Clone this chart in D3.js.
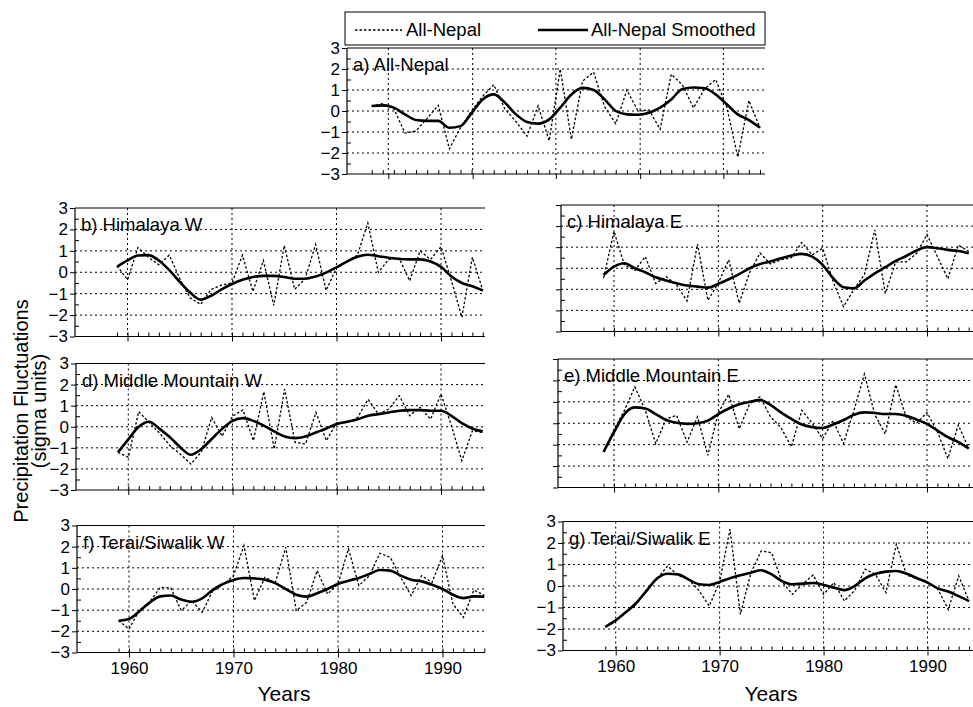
<!DOCTYPE html>
<html lang="en">
<head>
<meta charset="UTF-8">
<title>Precipitation Fluctuations - Nepal</title>
<script src="https://d3js.org/d3.v7.min.js"></script>
<style>
  body { margin: 0; background: #fff; font-family: "Liberation Sans", Arial, sans-serif; }
  .grid { stroke: #000; stroke-width: 1; stroke-dasharray: 2,3; }
  .raw { fill: none; stroke: #000; stroke-width: 1.3; stroke-dasharray: 2.5,2; }
  .smooth { fill: none; stroke: #000; stroke-width: 2.6; stroke-linejoin: round; }
  .frame { stroke: #000; stroke-width: 1.2; }
  .axis path { display: none; }
  .axis line { stroke: #000; stroke-width: 1; }
  .axis text { font-size: 17px; font-family: "Liberation Sans", Arial, sans-serif; fill: #000; }
  .panel-label { font-size: 18.5px; }
</style>
</head>
<body>
<svg width="973" height="707"></svg>
<script>
// years of record
const years = d3.range(1959, 1995);

// a) All-Nepal
const allNepal = [0.24, 0.35, 0.1, -1.05, -0.95, -0.35, 0.27, -1.8, -0.8, 0.0, 0.7, 1.25,
  0.1, -0.5, -1.2, 0.25, -1.42, 2.0, -1.35, 1.42, 1.85, 0.2, -0.6, 1.0,
  0.0, 0.05, -0.87, 1.75, 1.25, 0.15, 1.05, 1.5, 0.2, -2.2, 0.5, -0.8];
const allNepalSmooth = [0.24, 0.27, 0.16, -0.16, -0.43, -0.47, -0.47, -0.8, -0.72, -0.1, 0.55, 0.79,
  0.4, -0.16, -0.52, -0.6, -0.4, 0.16, 0.79, 1.1, 1.0, 0.55, 0.0, -0.16,
  -0.18, -0.08, 0.16, 0.55, 1.05, 1.12, 1.08, 0.79, 0.32, -0.16, -0.43, -0.79];

// b) Himalaya W
const himalayaW = [0.3, -0.35, 1.15, 0.7, 0.35, 0.8, -0.3, -1.2, -1.5, -0.8, -0.6, -0.5,
  0.8, -0.9, 0.55, -1.55, 1.25, -0.8, -0.3, 1.3, -0.85, 0.2, 0.5, 0.8,
  2.3, 0.0, 0.6, 0.65, -0.4, 1.0, 0.6, 1.2, -0.4, -2.1, 0.7, -0.85];
const himalayaWSmooth = [0.25, 0.55, 0.78, 0.8, 0.55, 0.1, -0.45, -0.95, -1.28, -1.1, -0.8, -0.55,
  -0.35, -0.22, -0.17, -0.17, -0.22, -0.3, -0.3, -0.2, -0.02, 0.23, 0.5, 0.72,
  0.82, 0.75, 0.68, 0.62, 0.6, 0.6, 0.5, 0.25, -0.2, -0.5, -0.65, -0.85];

// c) Himalaya E
const himalayaE = [-0.47, 1.75, 0.15, -0.1, 0.55, -0.72, -0.4, -0.8, -1.55, 1.15, -1.52, -0.7,
  0.4, -1.66, -0.2, 0.72, 0.2, 0.4, 0.5, 1.22, 0.63, 0.95, -0.63, -1.82,
  -1.0, -0.3, 1.82, -1.2, 0.3, 0.3, 0.7, 1.6, 0.55, -0.5, 1.1, 0.8];
const himalayaESmooth = [-0.32, 0.08, 0.24, 0.0, -0.19, -0.43, -0.58, -0.71, -0.82, -0.87, -0.92, -0.74,
  -0.52, -0.28, 0.0, 0.2, 0.32, 0.47, 0.6, 0.68, 0.55, 0.16, -0.47, -0.9,
  -0.95, -0.58, -0.24, 0.05, 0.35, 0.58, 0.84, 1.0, 0.95, 0.87, 0.82, 0.71];

// d) Middle Mountain W
const middleW = [-1.22, -1.45, 0.72, 0.2, -0.3, -0.9, -1.3, -1.77, -1.2, 0.44, -0.45, 0.5,
  0.8, -0.66, 1.66, -1.06, 1.78, -0.74, -0.82, 0.68, -0.66, 0.2, 0.2, 0.44,
  1.3, 0.6, 0.84, 1.47, 0.52, 0.92, 0.36, 1.55, 0.05, -1.61, -0.2, -0.27];
const middleWSmooth = [-1.22, -0.6, 0.0, 0.24, -0.1, -0.5, -0.98, -1.33, -1.06, -0.58, -0.1, 0.28,
  0.41, 0.28, 0.05, -0.22, -0.46, -0.54, -0.46, -0.27, -0.08, 0.13, 0.24, 0.36,
  0.52, 0.6, 0.68, 0.76, 0.79, 0.79, 0.76, 0.76, 0.52, 0.17, -0.08, -0.22];

// e) Middle Mountain E
const middleE = [-1.34, -0.3, 0.6, 1.7, 0.6, -0.95, 0.2, 0.37, -0.88, 0.3, -1.5, 0.5,
  1.35, -0.26, 0.9, 1.24, 0.3, -0.2, -1.1, 0.6, 0.0, -0.72, 0.12, -0.95,
  0.6, 2.3, 0.4, -0.5, 1.8, 0.3, 0.0, 0.5, -0.4, -1.65, -0.08, -1.18];
const middleESmooth = [-1.34, -0.42, 0.43, 0.74, 0.69, 0.43, 0.15, 0.02, -0.03, 0.0, 0.12, 0.43,
  0.69, 0.89, 1.0, 1.08, 0.86, 0.51, 0.2, -0.06, -0.18, -0.22, -0.06, 0.15,
  0.4, 0.51, 0.48, 0.43, 0.43, 0.35, 0.17, -0.03, -0.34, -0.65, -0.88, -1.18];

// f) Terai/Siwalik W
const teraiW = [-1.5, -1.89, -1.0, -0.6, 0.08, 0.05, -1.02, -0.55, -1.1, -0.1, 0.2, 0.63,
  2.05, -0.55, 0.55, 0.3, 1.97, -1.02, -0.63, 0.87, -0.24, 0.24, 1.9, 0.16,
  0.63, 1.69, 1.5, 0.55, -0.31, 0.63, 0.31, 1.57, -0.71, -1.34, -0.05, -0.3];
const teraiWSmooth = [-1.5, -1.42, -1.05, -0.63, -0.35, -0.31, -0.5, -0.6, -0.44, -0.05, 0.24, 0.43,
  0.52, 0.5, 0.44, 0.28, 0.0, -0.27, -0.36, -0.2, 0.0, 0.24, 0.39, 0.52,
  0.71, 0.9, 0.87, 0.63, 0.44, 0.36, 0.2, 0.0, -0.27, -0.43, -0.35, -0.36];

// g) Terai/Siwalik E
const teraiE = [-1.9, -1.6, -1.2, -0.85, -0.15, 0.35, 0.93, 0.5, 0.3, -0.2, -0.93, 0.2,
  2.64, -1.32, 0.6, 1.63, 1.55, 0.2, -0.39, 0.1, 0.51, -0.39, 0.16, -0.7,
  -0.2, 0.78, 0.54, -0.31, 1.94, 0.5, 0.35, 0.15, -0.15, -1.09, 0.47, -0.7];
const teraiESmooth = [-1.9, -1.6, -1.21, -0.78, -0.2, 0.36, 0.57, 0.54, 0.31, 0.08, 0.05, 0.19,
  0.36, 0.5, 0.62, 0.73, 0.54, 0.23, 0.08, 0.11, 0.14, 0.05, -0.08, -0.19,
  0.0, 0.36, 0.57, 0.67, 0.7, 0.57, 0.36, 0.16, -0.11, -0.26, -0.47, -0.7];

const yTicks = [-3, -2, -1, 0, 1, 2, 3];
const decadeTicks = [1960, 1970, 1980, 1990];
const panelAGrid = [1960.5, 1968.1, 1975.6, 1983.2, 1990.7];
const legendLabels = ["All-Nepal", "All-Nepal Smoothed"];

// layout of the seven panels (pixels)
const panels = [
  { label: "a) All-Nepal", raw: allNepal, smooth: allNepalSmooth, left: 347, right: 765, top: 48, bottom: 174,
    xDom: [1959, 1994], xRange: [371.7, 760], grid: panelAGrid, yLabels: true, xLabels: false },
  { label: "b) Himalaya W", raw: himalayaW, smooth: himalayaWSmooth, left: 75, right: 485, top: 208, bottom: 336.5,
    xDom: [1960, 1990], xRange: [127.5, 441], grid: decadeTicks, yLabels: true, xLabels: false },
  { label: "c) Himalaya E", raw: himalayaE, smooth: himalayaESmooth, left: 561, right: 973, top: 205, bottom: 331.5,
    xDom: [1960, 1990], xRange: [614, 927], grid: decadeTicks, yLabels: false, xLabels: false },
  { label: "d) Middle Mountain W", raw: middleW, smooth: middleWSmooth, left: 76, right: 485, top: 363.5, bottom: 490,
    xDom: [1960, 1990], xRange: [128.3, 441], grid: decadeTicks, yLabels: true, xLabels: false },
  { label: "e) Middle Mountain E", raw: middleE, smooth: middleESmooth, left: 558, right: 973, top: 359, bottom: 487.5,
    xDom: [1960, 1990], xRange: [614, 927], grid: decadeTicks, yLabels: false, xLabels: false },
  { label: "f) Terai/Siwalik W", raw: teraiW, smooth: teraiWSmooth, left: 77, right: 485, top: 525.5, bottom: 652.5,
    xDom: [1960, 1990], xRange: [129, 442.5], grid: decadeTicks, yLabels: true, xLabels: true },
  { label: "g) Terai/Siwalik E", raw: teraiE, smooth: teraiESmooth, left: 563, right: 973, top: 521.5, bottom: 650.5,
    xDom: [1960, 1990], xRange: [615.7, 927.5], grid: decadeTicks, yLabels: true, xLabels: true }
];

const svg = d3.select("svg");

panels.forEach(p => {
  const x = d3.scaleLinear().domain(p.xDom).range(p.xRange);
  const y = d3.scaleLinear().domain([-3, 3]).range([p.bottom, p.top]);
  const g = svg.append("g");

  // grid
  g.selectAll(".hgrid").data(yTicks.filter(v => v > -3 && v < 3)).enter().append("line")
    .attr("class", "grid")
    .attr("x1", p.left).attr("x2", p.right)
    .attr("y1", d => y(d)).attr("y2", d => y(d));
  g.selectAll(".vgrid").data(p.grid).enter().append("line")
    .attr("class", "grid")
    .attr("x1", d => x(d)).attr("x2", d => x(d))
    .attr("y1", p.top).attr("y2", p.bottom);

  // frame: top, left, bottom
  g.append("line").attr("class", "frame").attr("x1", p.left).attr("x2", p.right).attr("y1", p.top).attr("y2", p.top);
  g.append("line").attr("class", "frame").attr("x1", p.left).attr("x2", p.left).attr("y1", p.top).attr("y2", p.bottom);
  g.append("line").attr("class", "frame").attr("x1", p.left).attr("x2", p.right).attr("y1", p.bottom).attr("y2", p.bottom);

  // y axis: major ticks outward, minor inward
  g.append("g").attr("class", "axis")
    .attr("transform", `translate(${p.left},0)`)
    .call(d3.axisLeft(y).tickValues(yTicks).tickSize(5).tickPadding(2)
      .tickFormat(p.yLabels ? d3.format("d") : ""));
  g.append("g").attr("class", "axis")
    .attr("transform", `translate(${p.left},0)`)
    .call(d3.axisLeft(y).tickValues(d3.range(-2.5, 3, 1)).tickSize(-4).tickFormat(""));

  // x axis: year ticks inward, decade ticks outward
  const yearTicks = years.filter(v => x(v) > p.left && x(v) < p.right);
  g.append("g").attr("class", "axis")
    .attr("transform", `translate(0,${p.bottom})`)
    .call(d3.axisBottom(x).tickValues(yearTicks).tickSize(-4).tickFormat(""));
  g.append("g").attr("class", "axis")
    .attr("transform", `translate(0,${p.bottom})`)
    .call(d3.axisBottom(x).tickValues(p.grid).tickSize(5).tickPadding(4.5)
      .tickFormat(p.xLabels ? d3.format("d") : ""));

  // series
  const rawLine = d3.line().x((d, i) => x(years[i])).y(d => y(d));
  const smoothLine = d3.line().x((d, i) => x(years[i])).y(d => y(d)).curve(d3.curveMonotoneX);
  g.append("path").attr("class", "raw").attr("d", rawLine(p.raw));
  g.append("path").attr("class", "smooth").attr("d", smoothLine(p.smooth));

  // panel label
  g.append("text").attr("class", "panel-label")
    .attr("x", p.left + 6).attr("y", y(2) + 2)
    .text(p.label);

  if (p.xLabels) {
    g.append("text")
      .attr("x", (p.left + p.right) / 2 + 3).attr("y", 701)
      .attr("text-anchor", "middle").style("font-size", "21px")
      .text("Years");
  }
});

// legend
const legend = svg.append("g");
legend.append("rect").attr("x", 345).attr("y", 12).attr("width", 420).attr("height", 33)
  .attr("fill", "#fff").attr("stroke", "#000").attr("stroke-width", 1);
legend.append("line").attr("class", "raw").attr("x1", 355).attr("x2", 402).attr("y1", 30).attr("y2", 30);
legend.append("text").attr("x", 406).attr("y", 36).style("font-size", "18.5px").text(legendLabels[0]);
legend.append("line").attr("class", "smooth").attr("x1", 538).attr("x2", 588).attr("y1", 30).attr("y2", 30);
legend.append("text").attr("x", 591).attr("y", 36).style("font-size", "18.5px").text(legendLabels[1]);

// y axis title
const title = svg.append("g").attr("transform", "translate(0,411) rotate(-90)");
title.append("text").attr("x", 0).attr("y", 28).attr("text-anchor", "middle")
  .style("font-size", "20px").text("Precipitation Fluctuations");
title.append("text").attr("x", 0).attr("y", 46).attr("text-anchor", "middle")
  .style("font-size", "20px").text("(sigma units)");
</script>
</body>
</html>
